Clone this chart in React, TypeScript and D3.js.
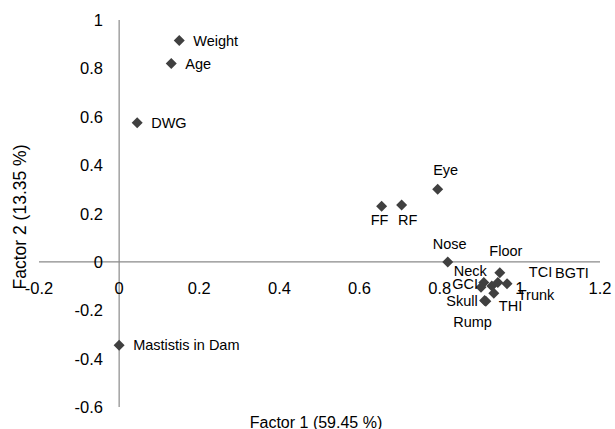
import React from "react";
import * as d3 from "d3";

const names = ["Weight", "Age", "DWG", "Eye", "FF", "RF", "Nose", "Floor", "Neck", "GCI", "Trunk", "TCI", "BGTI", "THI", "Skull", "Rump", "Mastistis in Dam"];
const factor1 = [0.15, 0.13, 0.045, 0.795, 0.655, 0.705, 0.82, 0.95, 0.91, 0.903, 0.93, 0.945, 0.968, 0.935, 0.915, 0.912, 0.0];
const factor2 = [0.915, 0.82, 0.575, 0.3, 0.23, 0.235, 0.0, -0.045, -0.085, -0.105, -0.1, -0.085, -0.09, -0.13, -0.163, -0.16, -0.345];
const xTicks = [-0.2, 0, 0.2, 0.4, 0.6, 0.8, 1, 1.2];
const yTicks = [-0.6, -0.4, -0.2, 0, 0.2, 0.4, 0.6, 0.8, 1];

// label placement relative to each marker: [dx, dy, anchor]
const labelPlace: [number, number, string][] = [
  [14, 0, "start"],
  [14, 0, "start"],
  [14, 0, "start"],
  [8, -19, "middle"],
  [-2, 14, "middle"],
  [6, 15, "middle"],
  [2, -18, "middle"],
  [6, -22, "middle"],
  [3, -11, "end"],
  [-3, -3, "end"],
  [26, 9, "start"],
  [31, -10, "start"],
  [48, -11, "start"],
  [5, 13, "start"],
  [-8, 0, "end"],
  [-12, 21, "middle"],
  [14, 0, "start"],
];

const W = 615, H = 429;
const x = d3.scaleLinear().domain([-0.2, 1.2]).range([39, 600]);
const y = d3.scaleLinear().domain([-0.6, 1]).range([407, 20]);
const fmt = (v: number) => (v === 0 ? "0" : v === 1 ? "1" : String(v));
const font = "'Liberation Sans', Arial, sans-serif";
const axisColor = "#8a8a8a";
const markColor = "#404040";

export default function App() {
  const r = 5.5;
  const diamond = (cx: number, cy: number) =>
    `M${cx},${cy - r}L${cx + r},${cy}L${cx},${cy + r}L${cx - r},${cy}Z`;
  return (
    <svg width={W} height={H} style={{ position: "absolute", left: 0, top: 0, background: "#fff" }} fontFamily={font}>
      <rect width={W} height={H} fill="#fff" />
      {/* axes */}
      <line x1={x(-0.2)} x2={x(1.2)} y1={y(0)} y2={y(0)} stroke={axisColor} strokeWidth={1.2} />
      <line x1={x(0)} x2={x(0)} y1={y(1)} y2={y(-0.6)} stroke={axisColor} strokeWidth={1.2} />
      {/* y tick labels */}
      {yTicks.map((t) => (
        <text key={"y" + t} x={103} y={y(t)} textAnchor="end" dominantBaseline="central" fontSize={16.5} fill="#000">
          {fmt(t)}
        </text>
      ))}
      {/* x tick labels */}
      {xTicks.map((t) => (
        <text key={"x" + t} x={x(t)} y={y(0) + 26} textAnchor="middle" dominantBaseline="central" fontSize={16.5} fill="#000">
          {fmt(t)}
        </text>
      ))}
      {/* axis titles */}
      <text x={316} y={428} textAnchor="middle" fontSize={16} fill="#000">Factor 1 (59.45 %)</text>
      <text transform={`translate(26,217) rotate(-90)`} textAnchor="middle" fontSize={17.5} fill="#000">Factor 2 (13.35 %)</text>
      {/* points */}
      {names.map((n, i) => (
        <path key={"p" + n} d={diamond(x(factor1[i]), y(factor2[i]))} fill={markColor} />
      ))}
      {names.map((n, i) => {
        const [dx, dy, anchor] = labelPlace[i];
        return (
          <text key={"l" + n} x={x(factor1[i]) + dx} y={y(factor2[i]) + dy} textAnchor={anchor as any} dominantBaseline="central" fontSize={14.5} fill="#000">
            {n}
          </text>
        );
      })}
    </svg>
  );
}
